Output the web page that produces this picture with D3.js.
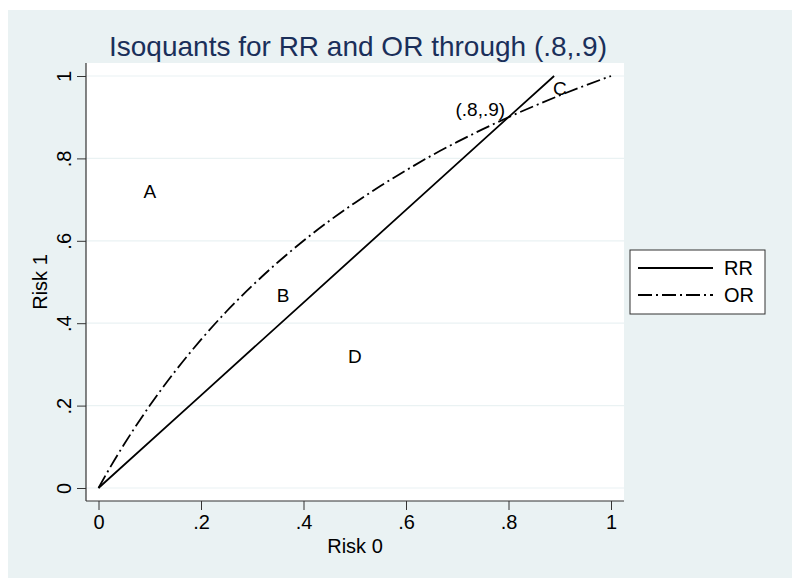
<!DOCTYPE html>
<html>
<head>
<meta charset="utf-8">
<script src="https://cdn.jsdelivr.net/npm/d3@7"></script>
<style>
  body { margin: 0; background: #ffffff; }
  text { font-family: "Liberation Sans", Arial, sans-serif; }
</style>
</head>
<body>
<div id="chart"></div>
<script>
// values
var tickValues = [0, 0.2, 0.4, 0.6, 0.8, 1];
var tickLabels = ["0", ".2", ".4", ".6", ".8", "1"];

var rrRisk0 = [0, 0.2, 0.4, 0.6, 0.8, 0.889];
var rrRisk1 = [0, 0.225, 0.45, 0.675, 0.9, 1];

var orRisk0 = [0, 0.025, 0.05, 0.1, 0.15, 0.2, 0.25, 0.3, 0.35, 0.4, 0.45, 0.5, 0.55, 0.6, 0.65, 0.7, 0.75, 0.8, 0.85, 0.9, 0.95, 1];
var orRisk1 = [0, 0.055, 0.106, 0.2, 0.284, 0.36, 0.429, 0.491, 0.548, 0.6, 0.648, 0.692, 0.733, 0.771, 0.807, 0.84, 0.871, 0.9, 0.927, 0.953, 0.977, 1];

var labelText = ["A", "B", "C", "D", "(.8,.9)"];
var labelX = [0.1, 0.36, 0.9, 0.5, 0.745];
var labelY = [0.72, 0.468, 0.97, 0.32, 0.92];

var seriesNames = ["RR", "OR"];

var w = 800, h = 587;
var svg = d3.select("#chart").append("svg").attr("width", w).attr("height", h);

// graph region
svg.append("rect").attr("x", 8).attr("y", 10).attr("width", 784).attr("height", 568).attr("fill", "#eaf2f3");

// plot region
var plotLeft = 86, plotRight = 624, plotTop = 63, plotBottom = 501;
svg.append("rect").attr("x", plotLeft).attr("y", plotTop)
    .attr("width", plotRight - plotLeft).attr("height", plotBottom - plotTop).attr("fill", "#ffffff");

var x = d3.scaleLinear().domain([0, 1]).range([98.5, 611]);
var y = d3.scaleLinear().domain([0, 1]).range([488, 76]);

// gridlines
svg.append("g").selectAll("line").data(tickValues).enter().append("line")
    .attr("x1", plotLeft).attr("x2", plotRight)
    .attr("y1", function (d) { return y(d); }).attr("y2", function (d) { return y(d); })
    .attr("stroke", "#eaf2f3").attr("stroke-width", 1.2);

function fmt(d) { return tickLabels[tickValues.indexOf(d)]; }

var yAxis = svg.append("g").attr("transform", "translate(" + plotLeft + ",0)")
    .call(d3.axisLeft(y).tickValues(tickValues).tickFormat(fmt).tickSize(9).tickPadding(6));
yAxis.select(".domain").remove();
yAxis.selectAll("text")
    .attr("font-size", "20px").attr("fill", "#000")
    .attr("transform", "rotate(-90)")
    .attr("x", 0)
    .attr("y", -15)
    .attr("dy", "0")
    .attr("text-anchor", "middle");
yAxis.selectAll(".tick line").attr("stroke", "#333");

var xAxis = svg.append("g").attr("transform", "translate(0," + plotBottom + ")")
    .call(d3.axisBottom(x).tickValues(tickValues).tickFormat(fmt).tickSize(9).tickPadding(5));
xAxis.select(".domain").remove();
xAxis.selectAll("text").attr("font-size", "20px").attr("fill", "#000");
xAxis.selectAll(".tick line").attr("stroke", "#333");

// axis lines
svg.append("line").attr("x1", plotLeft).attr("x2", plotLeft).attr("y1", plotTop).attr("y2", plotBottom)
    .attr("stroke", "#333").attr("stroke-width", 1.2);
svg.append("line").attr("x1", plotLeft).attr("x2", plotRight).attr("y1", plotBottom).attr("y2", plotBottom)
    .attr("stroke", "#333").attr("stroke-width", 1.2);

// axis titles
svg.append("text").attr("x", 355).attr("y", 553).attr("text-anchor", "middle")
    .attr("font-size", "20px").text("Risk 0");
svg.append("text").attr("transform", "translate(47,282) rotate(-90)").attr("text-anchor", "middle")
    .attr("font-size", "20px").text("Risk 1");

// title
svg.append("text").attr("x", 358).attr("y", 56).attr("text-anchor", "middle")
    .attr("font-size", "28px").attr("fill", "#1a2f5a")
    .text("Isoquants for RR and OR through (.8,.9)");

// curves
var line = d3.line().x(function (d) { return x(d[0]); }).y(function (d) { return y(d[1]); });
var rrData = d3.zip(rrRisk0, rrRisk1);
var orData = d3.zip(orRisk0, orRisk1);
var dashOR = "14,4,2,4";

svg.append("path").datum(rrData).attr("d", line)
    .attr("fill", "none").attr("stroke", "#000").attr("stroke-width", 1.8);
svg.append("path").datum(orData).attr("d", line.curve(d3.curveMonotoneX))
    .attr("fill", "none").attr("stroke", "#000").attr("stroke-width", 1.8)
    .attr("stroke-dasharray", dashOR);

// text labels
svg.append("g").selectAll("text").data(labelText).enter().append("text")
    .attr("x", function (d, i) { return x(labelX[i]); })
    .attr("y", function (d, i) { return y(labelY[i]); })
    .attr("dy", "0.35em").attr("text-anchor", "middle")
    .attr("font-size", "19px").attr("fill", "#000")
    .text(function (d) { return d; });

// legend
var legend = svg.append("g");
legend.append("rect").attr("x", 630).attr("y", 250).attr("width", 135).attr("height", 64)
    .attr("fill", "#ffffff").attr("stroke", "#333").attr("stroke-width", 1);
seriesNames.forEach(function (name, i) {
    var ly = 268 + i * 27;
    legend.append("line").attr("x1", 638).attr("x2", 713).attr("y1", ly).attr("y2", ly)
        .attr("stroke", "#000").attr("stroke-width", 1.8)
        .attr("stroke-dasharray", i === 1 ? dashOR : null);
    legend.append("text").attr("x", 724).attr("y", ly).attr("dy", "0.35em")
        .attr("font-size", "20px").text(name);
});
</script>
</body>
</html>
